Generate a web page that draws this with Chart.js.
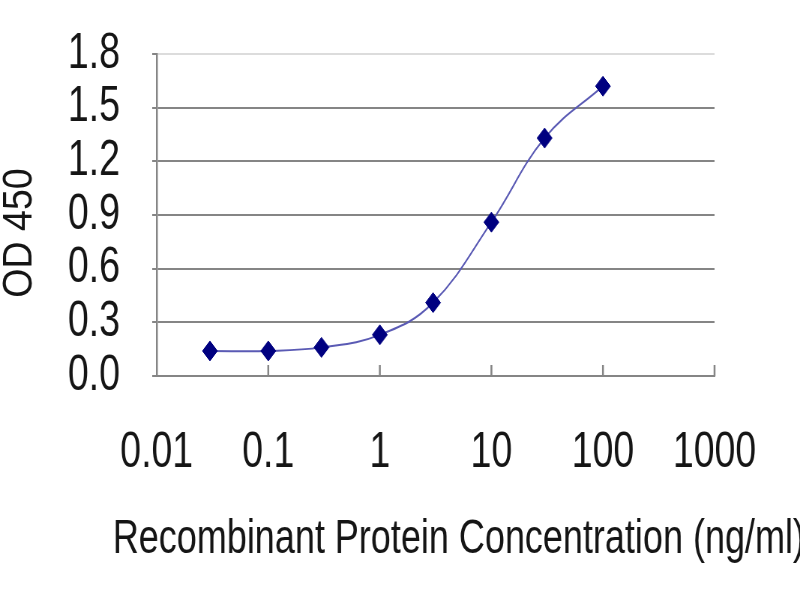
<!DOCTYPE html>
<html>
<head>
<meta charset="utf-8">
<script src="https://cdn.jsdelivr.net/npm/chart.js@4/dist/chart.umd.min.js"></script>
<style>
  html, body { margin: 0; padding: 0; background: #ffffff; overflow: hidden; }
</style>
</head>
<body>
<!-- the original is a wider picture squeezed into 800px, so the canvas is drawn wide and shown at 800 -->
<canvas id="chart" width="1067" height="600" style="width:800px;height:600px"></canvas>
<script>
// ELISA standard curve values
const concentrations = [0.03, 0.1, 0.3, 1, 3, 10, 30, 100];
const od450 = [0.14, 0.14, 0.16, 0.23, 0.41, 0.86, 1.33, 1.62];

const xTickValues = [0.01, 0.1, 1, 10, 100, 1000];
const xTickLabels = ['0.01', '0.1', '1', '10', '100', '1000'];
const yTickValues = [0, 0.3, 0.6, 0.9, 1.2, 1.5, 1.8];

const xTitle = 'Recombinant Protein Concentration (ng/ml)';
const yTitle = 'OD 450';

const FONT = '"Liberation Sans", Arial, sans-serif';
const AXIS_GREY = '#858585';
const TEXT = '#151515';

// short tick marks pointing up from the x axis, as in the original
const innerTicks = {
  id: 'innerTicks',
  afterDatasetsDraw(chart) {
    const { ctx, scales: { x }, chartArea } = chart;
    ctx.save();
    ctx.strokeStyle = AXIS_GREY;
    ctx.lineWidth = 2.5;
    xTickValues.slice(1).forEach(v => {
      const px = x.getPixelForValue(v);
      ctx.beginPath();
      ctx.moveTo(px, chartArea.bottom);
      ctx.lineTo(px, chartArea.bottom - 11);
      ctx.stroke();
    });
    ctx.restore();
  }
};

// axis titles: the x title runs wider than the plot and the y title is
// squeezed along its length, which the built-in titles cannot do
const axisTitles = {
  id: 'axisTitles',
  afterDraw(chart) {
    const { ctx, chartArea } = chart;
    const midX = (chartArea.left + chartArea.right) / 2;
    const midY = (chartArea.top + chartArea.bottom) / 2;
    ctx.save();
    ctx.fillStyle = TEXT;
    ctx.font = `48px ${FONT}`;
    ctx.textAlign = 'center';
    ctx.textBaseline = 'alphabetic';
    ctx.fillText(xTitle, midX + 31, 553);

    ctx.translate(27, midY + 18);
    ctx.rotate(-Math.PI / 2);
    ctx.scale(0.67, 1);
    ctx.font = `56px ${FONT}`;
    ctx.textBaseline = 'middle';
    ctx.fillText(yTitle, 0, 0);
    ctx.restore();
  }
};

const ctx = document.getElementById('chart').getContext('2d');
new Chart(ctx, {
  type: 'line',
  data: {
    datasets: [{
      label: 'OD 450',
      data: concentrations.map((c, i) => ({ x: c, y: od450[i] })),
      borderColor: '#5a5ab4',
      borderWidth: 2,
      tension: 0.4,
      pointStyle: 'rectRot',
      pointRadius: 10,
      pointBackgroundColor: '#000080',
      pointBorderColor: '#000080',
      pointBorderWidth: 1,
      fill: false
    }]
  },
  plugins: [innerTicks, axisTitles],
  options: {
    responsive: false,
    animation: false,
    layout: { padding: { top: 54, right: 114, left: 0, bottom: 0 } },
    plugins: {
      legend: { display: false },
      tooltip: { enabled: false }
    },
    scales: {
      x: {
        type: 'logarithmic',
        min: 0.01,
        max: 1000,
        afterBuildTicks: (scale) => {
          scale.ticks = xTickValues.map(v => ({ value: v }));
        },
        afterFit: (scale) => {
          scale.height = 224;
          scale.paddingLeft = 0;
          scale.paddingRight = 0;
        },
        grid: { display: false, drawTicks: false },
        border: { display: true, color: AXIS_GREY, width: 2 },
        ticks: {
          autoSkip: false,
          maxRotation: 0,
          padding: 47,
          color: TEXT,
          font: { family: FONT, size: 50 },
          callback: (v, i) => xTickLabels[i]
        }
      },
      y: {
        min: 0,
        max: 1.8,
        afterBuildTicks: (scale) => {
          scale.ticks = yTickValues.map(v => ({ value: v }));
        },
        afterFit: (scale) => {
          scale.width = 209;
          scale.paddingTop = 0;
          scale.paddingBottom = 0;
        },
        grid: {
          color: (c) => c.tick && c.tick.value >= 1.8 ? '#dcdcdc' : AXIS_GREY,
          lineWidth: 2,
          tickLength: 6,
          tickColor: AXIS_GREY
        },
        border: { display: true, color: AXIS_GREY, width: 2.5 },
        ticks: {
          autoSkip: false,
          padding: 43,
          color: TEXT,
          font: { family: FONT, size: 50, lineHeight: 1 },
          callback: (v) => v.toFixed(1)
        }
      }
    }
  }
});
</script>
</body>
</html>
